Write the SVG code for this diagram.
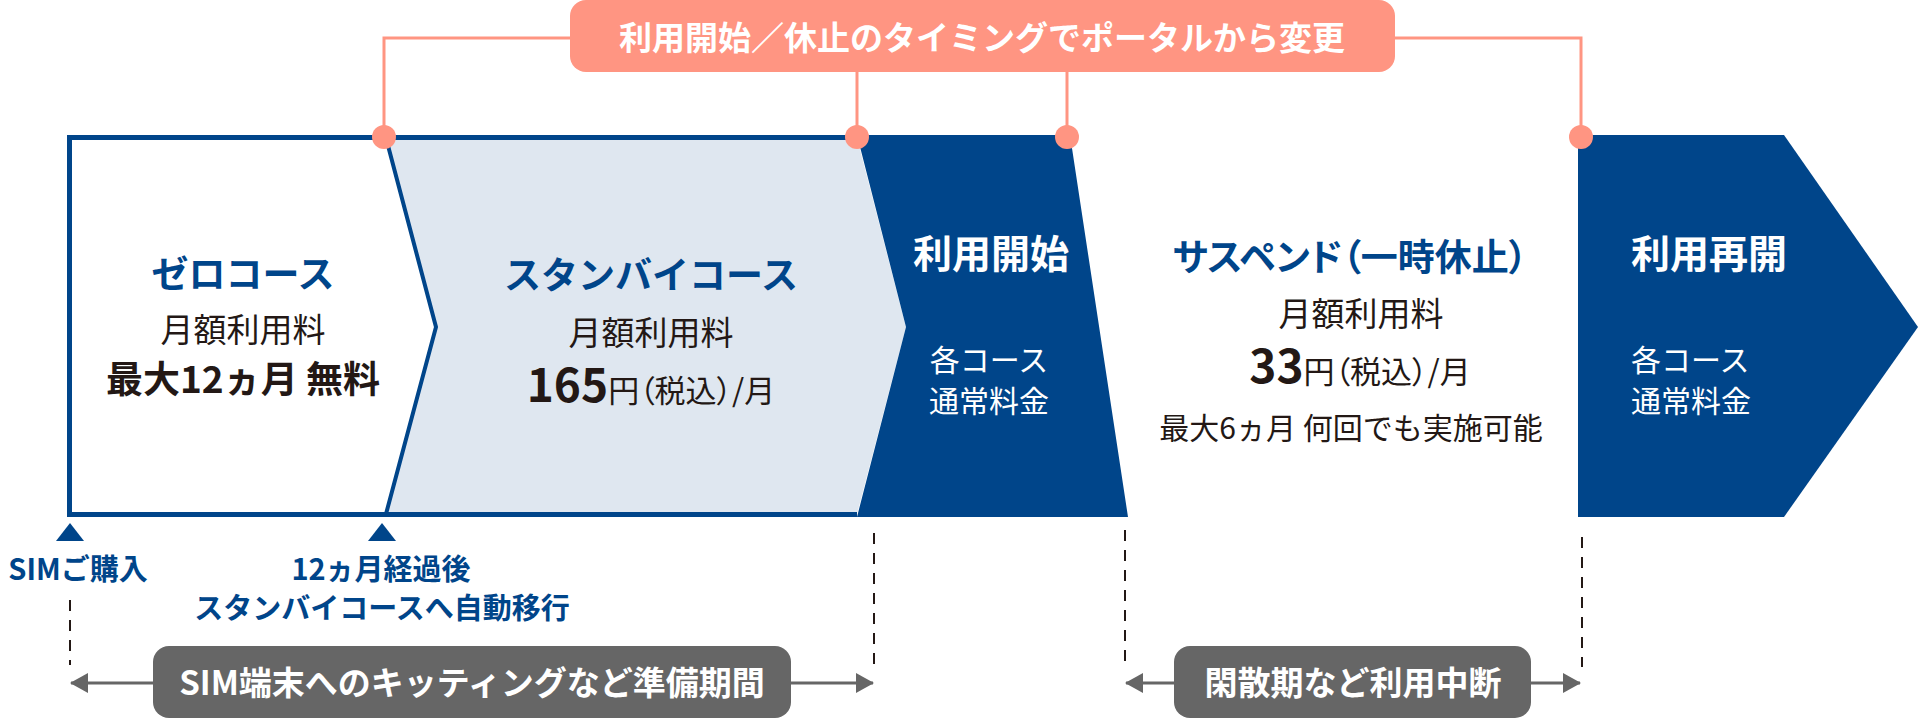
<svg xmlns="http://www.w3.org/2000/svg" width="1920" height="720" viewBox="0 0 1920 720">
<defs>
<style>
text{font-family:"Noto Sans CJK JP","Noto Sans",sans-serif;}
.b{font-weight:700;}
.r{font-weight:400;}
.blue{fill:#00458a;}
.blk{fill:#231815;}
.wh{fill:#ffffff;}
.mid{text-anchor:middle;}
.palt{font-feature-settings:"palt";}
.sal{stroke:#ff9582;stroke-width:3;fill:none;}
.dot{fill:#ff9582;}
.dash{stroke:#231815;stroke-width:2;stroke-dasharray:11 9;fill:none;}
.garr{stroke:#666666;stroke-width:3;fill:none;marker-start:url(#ah);marker-end:url(#ah);}
</style>
<marker id="ah" viewBox="0 0 18 20" refX="17" refY="10" markerWidth="18" markerHeight="20" markerUnits="userSpaceOnUse" orient="auto-start-reverse">
<path d="M0,0 L18,10 L0,20 Z" fill="#666666"/>
</marker>
</defs>
<rect width="1920" height="720" fill="#ffffff"/>

<g id="zero-course">
<polygon points="69.5,137.5 386,137.5 436,327 386,514.5 69.5,514.5" fill="#ffffff"/>
<text class="b blue mid" x="243" y="288" font-size="37">ゼロコース</text>
<text class="r blk mid" x="243" y="342" font-size="33">月額利用料</text>
<text class="b blk mid" x="243" y="393" font-size="37">最大12ヵ月 無料</text>
</g>

<g id="standby-course">
<polygon points="386,138 436,327 386,514 857,514 906,327 857,138" fill="#dfe7f0"/>
<path d="M857,137.5 H69.5 V514.5 H857" fill="none" stroke="#00458a" stroke-width="5"/>
<path d="M386,138 L436,327 L386,514" fill="none" stroke="#00458a" stroke-width="4"/>
<text class="b blue mid" x="651" y="289" font-size="37">スタンバイコース</text>
<text class="r blk mid" x="651" y="345" font-size="33">月額利用料</text>
<text class="blk mid" x="651" y="402"><tspan class="b" font-size="46">165</tspan><tspan class="r palt" font-size="31">円（税込）/月</tspan></text>
</g>

<g id="start-use">
<polygon points="857,135 1070,135 1128,517 857,517 906,327" fill="#00458a"/>
<text class="b wh mid" x="991" y="268" font-size="39">利用開始</text>
<text class="r wh mid" x="989" y="371" font-size="30">各コース</text>
<text class="r wh mid" x="989" y="412" font-size="30">通常料金</text>
</g>

<g id="suspend">
<text class="b blue mid palt" x="1350" y="271" font-size="37">サスペンド（一時休止）</text>
<text class="r blk mid" x="1361" y="326" font-size="33">月額利用料</text>
<text class="blk mid" x="1360" y="383"><tspan class="b" font-size="46">33</tspan><tspan class="r palt" font-size="31">円（税込）/月</tspan></text>
<text class="r blk mid" x="1351" y="439" font-size="30">最大6ヵ月 何回でも実施可能</text>
</g>

<g id="resume">
<polygon points="1578,135 1784,135 1918,327 1784,517 1578,517" fill="#00458a"/>
<text class="b wh" x="1631" y="268" font-size="39">利用再開</text>
<text class="r wh" x="1631" y="371" font-size="30">各コース</text>
<text class="r wh" x="1631" y="412" font-size="30">通常料金</text>
</g>

<g id="timing-note">
<rect x="570" y="0" width="825" height="72" rx="16" fill="#ff9582"/>
<text class="b wh mid" x="982" y="50" font-size="33">利用開始／休止のタイミングでポータルから変更</text>
</g>

<g id="sim-purchase">
<polygon points="56,541 70,523 84,541" fill="#00458a"/>
<text class="b blue mid" x="78" y="580" font-size="29">SIMご購入</text>
</g>

<g id="auto-transition">
<polygon points="368,541 382,523 396,541" fill="#00458a"/>
<text class="b blue mid" x="381" y="580" font-size="29">12ヵ月経過後</text>
<text class="b blue mid" x="382" y="619" font-size="29">スタンバイコースへ自動移行</text>
</g>

<g id="connectors">
<path class="sal" d="M570,38 H384 V137"/>
<path class="sal" d="M857,72 V137"/>
<path class="sal" d="M1067,72 V137"/>
<path class="sal" d="M1395,38 H1581 V137"/>
<circle class="dot" cx="384" cy="137" r="12"/>
<circle class="dot" cx="857" cy="137" r="12"/>
<circle class="dot" cx="1067" cy="137" r="12"/>
<circle class="dot" cx="1581" cy="137" r="12"/>
<path class="dash" d="M70,600 V665"/>
<path class="dash" d="M874,533 V665"/>
<path class="dash" d="M1125,530 V662"/>
<path class="dash" d="M1582,537 V667"/>
<path class="garr" d="M71,683 H873"/>
<path class="garr" d="M1126,683 H1580"/>
</g>

<g id="prep-period">
<rect x="153" y="646" width="638" height="72" rx="16" fill="#666666"/>
<text class="b wh mid" x="472" y="695" font-size="33">SIM端末へのキッティングなど準備期間</text>
</g>

<g id="offpeak-pause">
<rect x="1174" y="646" width="357" height="72" rx="16" fill="#666666"/>
<text class="b wh mid" x="1353" y="695" font-size="33">閑散期など利用中断</text>
</g>
</svg>
